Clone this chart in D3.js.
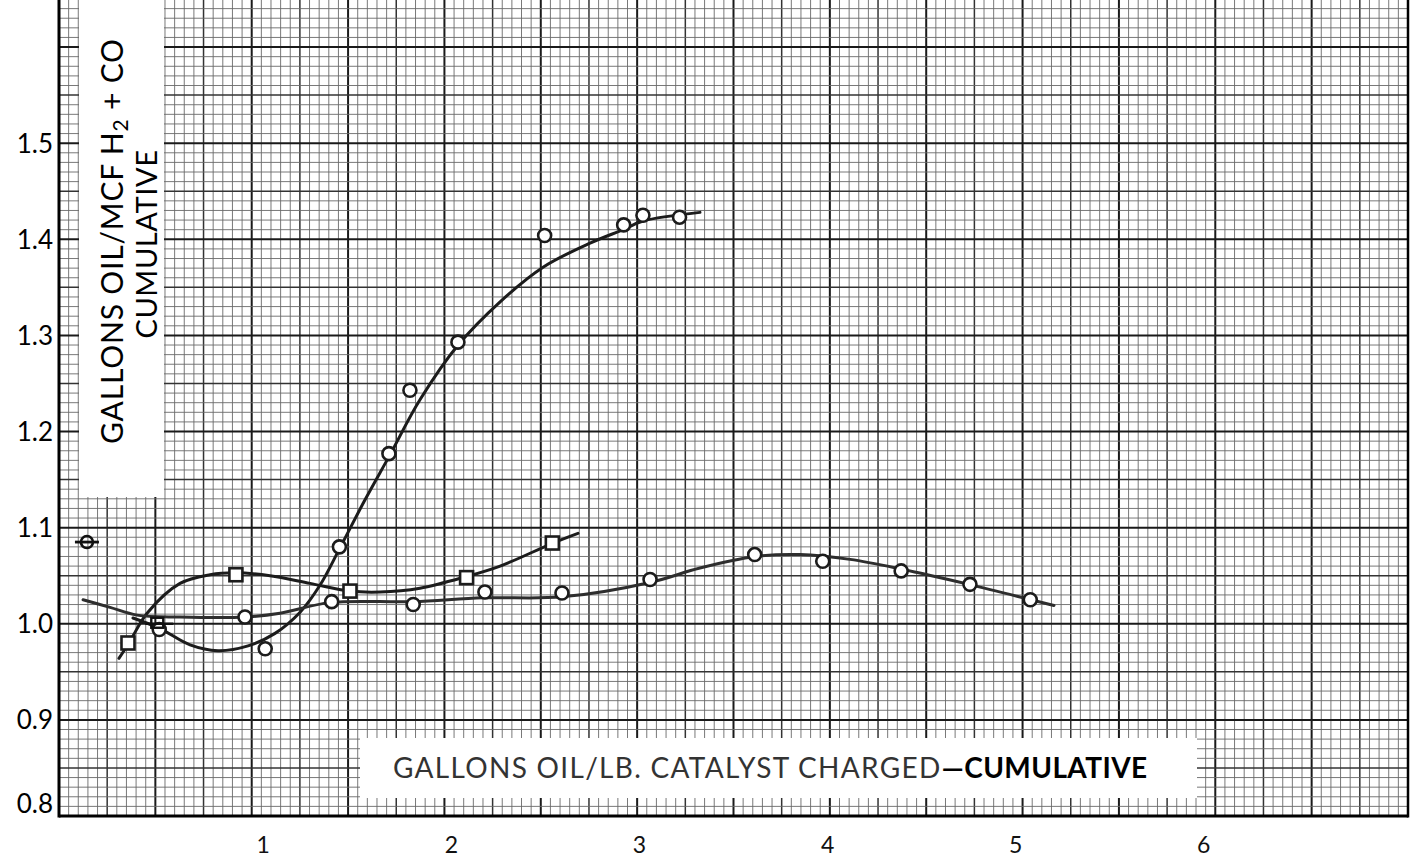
<!DOCTYPE html>
<html>
<head>
<meta charset="utf-8">
<script src="https://cdn.jsdelivr.net/npm/d3@7"></script>
<style>
  body { margin: 0; background: #fff; }
  svg { display: block; }
  text { font-family: Lato, "Open Sans", sans-serif; }
</style>
</head>
<body>
<svg id="chart"></svg>
<script>
'use strict';
// Tick labels
const X_TICKS = [1, 2, 3, 4, 5, 6];
const Y_TICKS = [0.8, 0.9, 1.0, 1.1, 1.2, 1.3, 1.4, 1.5];

// Run A (circles): plotted points and the hand drawn curve through them
const RUN_A_X = [0.52, 1.07, 1.455, 1.712, 1.821, 2.07, 2.52, 2.93, 3.03, 3.22];
const RUN_A_Y = [0.994, 0.974, 1.080, 1.177, 1.243, 1.293, 1.404, 1.415, 1.425, 1.423];
const CURVE_A_X = [0.384, 0.524, 0.68, 0.825, 0.981, 1.121, 1.251, 1.354, 1.458, 1.588, 1.718, 1.873, 2.071, 2.289, 2.512, 2.756, 2.927, 3.031, 3.326];
const CURVE_A_Y = [1.006, 0.995, 0.978, 0.972, 0.977, 0.990, 1.012, 1.040, 1.079, 1.129, 1.176, 1.233, 1.290, 1.335, 1.371, 1.396, 1.410, 1.419, 1.428];

// Run B (squares)
const RUN_B_X = [0.358, 0.918, 1.51, 2.115, 2.56];
const RUN_B_Y = [0.980, 1.051, 1.034, 1.048, 1.084];
const CURVE_B_X = [0.311, 0.363, 0.457, 0.628, 0.784, 0.913, 1.095, 1.303, 1.51, 1.666, 1.873, 2.112, 2.289, 2.564, 2.693];
const CURVE_B_Y = [0.964, 0.980, 1.011, 1.042, 1.051, 1.053, 1.050, 1.042, 1.034, 1.033, 1.037, 1.049, 1.060, 1.084, 1.094];

// Run C (circles, long run)
const RUN_C_X = [0.965, 1.415, 1.838, 2.21, 2.61, 3.067, 3.61, 3.963, 4.37, 4.727, 5.04];
const RUN_C_Y = [1.007, 1.023, 1.020, 1.033, 1.032, 1.046, 1.072, 1.065, 1.055, 1.041, 1.025];
const CURVE_C_X = [0.125, 0.265, 0.405, 0.628, 0.965, 1.147, 1.406, 1.837, 2.2, 2.61, 3.067, 3.326, 3.612, 3.845, 4.105, 4.369, 4.722, 5.044, 5.163];
const CURVE_C_Y = [1.025, 1.017, 1.009, 1.007, 1.007, 1.011, 1.022, 1.023, 1.027, 1.028, 1.043, 1.058, 1.070, 1.072, 1.067, 1.057, 1.041, 1.025, 1.019];

// single points with a short dash through them
const LONE_CIRCLE = [0.145, 1.085];
const LONE_SQUARE = [0.51, 1.0];

const Y_TITLE_1 = 'GALLONS OIL/MCF H';
const Y_TITLE_2 = 'CUMULATIVE';
const X_TITLE = 'GALLONS OIL/LB. CATALYST CHARGED';
const X_TITLE_END = '\u2014CUMULATIVE';

const WIDTH = 1421, HEIGHT = 867;
const LEFT = 59, RIGHT = 1408, BOTTOM = 816;

let svg = d3.select('#chart').attr('width', WIDTH).attr('height', HEIGHT);

let x = d3.scaleLinear().domain([0, 7]).range([LEFT, RIGHT]);
let y = d3.scaleLinear().domain([0.8, 1.65]).range([BOTTOM, -1]);

function zip(xs, ys) { return xs.map(function(v, i) { return [v, ys[i]] }); }

// --- graph paper ---
let grid = svg.append('g');
d3.range(0, 141).forEach(function(i) {
  let v = i * 0.05;
  let heavy = i % 10 === 0, mid = i % 5 === 0;
  grid.append('line')
    .attr('x1', x(v)).attr('x2', x(v))
    .attr('y1', 0).attr('y2', BOTTOM)
    .attr('stroke', heavy ? '#1a1a1a' : mid ? '#333' : '#6a6a6a')
    .attr('stroke-width', heavy ? 2 : mid ? 1.5 : 0.9);
});
d3.range(0, 86).forEach(function(i) {
  let v = 0.8 + i * 0.01;
  let heavy = i % 10 === 0, mid = i % 5 === 0;
  grid.append('line')
    .attr('x1', LEFT).attr('x2', RIGHT)
    .attr('y1', y(v)).attr('y2', y(v))
    .attr('stroke', heavy ? '#1a1a1a' : mid ? '#333' : '#6a6a6a')
    .attr('stroke-width', heavy ? 2 : mid ? 1.5 : 0.9);
});
// frame
svg.append('line').attr('x1', LEFT).attr('x2', LEFT).attr('y1', 0).attr('y2', BOTTOM + 1.5)
  .attr('stroke', '#000').attr('stroke-width', 3);
svg.append('line').attr('x1', LEFT).attr('x2', RIGHT).attr('y1', BOTTOM).attr('y2', BOTTOM)
  .attr('stroke', '#000').attr('stroke-width', 3);
svg.append('line').attr('x1', RIGHT).attr('x2', RIGHT).attr('y1', 0).attr('y2', BOTTOM + 1.5)
  .attr('stroke', '#000').attr('stroke-width', 2.5);

// white patches pasted over the paper for the titles
svg.append('rect').attr('x', 79).attr('y', 0).attr('width', 85).attr('height', 497).attr('fill', '#fff');
svg.append('rect').attr('x', 360).attr('y', 738).attr('width', 837).attr('height', 60).attr('fill', '#fff');

// --- axes ---
let yAxis = svg.append('g')
  .attr('transform', 'translate(' + (LEFT - 6) + ',0)')
  .call(d3.axisLeft(y).tickValues(Y_TICKS).tickSize(0).tickPadding(0).tickFormat(d3.format('.1f')));
yAxis.select('.domain').remove();
yAxis.selectAll('text')
  .attr('font-size', 26).attr('fill', '#000')
  .attr('font-family', 'Lato, sans-serif')
  .attr('dy', function(d) { return d === 0.8 ? '-0.15em' : '0.34em' });

// the hand lettered numbers drift slightly from the grid lines
let xLabel = d3.scaleLinear().domain([1, 6]).range([x(1) + 11, x(6) - 12]);
let xAxis = svg.append('g')
  .attr('transform', 'translate(0,' + (BOTTOM + 21) + ')')
  .call(d3.axisBottom(xLabel).tickValues(X_TICKS).tickSize(0).tickPadding(0).tickFormat(d3.format('d')));
xAxis.select('.domain').remove();
xAxis.selectAll('text')
  .attr('font-size', 23).attr('fill', '#111')
  .attr('font-family', 'Lato, sans-serif');

// --- titles ---
let yt = svg.append('text')
  .attr('transform', 'translate(123,241) rotate(-90)')
  .attr('text-anchor', 'middle')
  .attr('font-size', 30).attr('fill', '#000')
  .attr('letter-spacing', 0.8);
yt.append('tspan').text(Y_TITLE_1);
yt.append('tspan').attr('font-size', 21).attr('dy', 5).text('2');
yt.append('tspan').attr('dy', -5).text('  +  CO');

svg.append('text')
  .attr('transform', 'translate(157,244) rotate(-90)')
  .attr('text-anchor', 'middle')
  .attr('font-size', 29).attr('fill', '#000')
  .attr('letter-spacing', 0.6)
  .text(Y_TITLE_2);

let xt = svg.append('text')
  .attr('x', 393).attr('y', 778)
  .attr('font-size', 28).attr('fill', '#333')
  .attr('letter-spacing', 1.3);
xt.append('tspan').text(X_TITLE);
xt.append('tspan').attr('fill', '#000').attr('font-weight', 'bold').attr('letter-spacing', 0.4).text(X_TITLE_END);

// --- curves and points ---
let line = d3.line()
  .x(function(d) { return x(d[0]) })
  .y(function(d) { return y(d[1]) })
  .curve(d3.curveCatmullRom.alpha(0.5));

let curves = [
  { pts: zip(CURVE_A_X, CURVE_A_Y), color: '#1c1c1c' },
  { pts: zip(CURVE_B_X, CURVE_B_Y), color: '#1c1c1c' },
  { pts: zip(CURVE_C_X, CURVE_C_Y), color: '#2e2e2e' }
];
svg.append('g').selectAll('path')
  .data(curves)
  .enter()
  .append('path')
  .attr('d', function(d) { return line(d.pts) })
  .attr('fill', 'none')
  .attr('stroke', function(d) { return d.color })
  .attr('stroke-width', 3)
  .attr('stroke-linecap', 'round');

let marks = svg.append('g');
marks.selectAll('circle.a')
  .data(zip(RUN_A_X, RUN_A_Y).concat(zip(RUN_C_X, RUN_C_Y)))
  .enter()
  .append('circle')
  .attr('cx', function(d) { return x(d[0]) })
  .attr('cy', function(d) { return y(d[1]) })
  .attr('r', 6.5)
  .attr('fill', '#fff')
  .attr('stroke', '#1c1c1c')
  .attr('stroke-width', 2.6);

marks.selectAll('rect.b')
  .data(zip(RUN_B_X, RUN_B_Y))
  .enter()
  .append('rect')
  .attr('x', function(d) { return x(d[0]) - 6.5 })
  .attr('y', function(d) { return y(d[1]) - 6.5 })
  .attr('width', 13).attr('height', 13)
  .attr('fill', '#fff')
  .attr('stroke', '#1c1c1c')
  .attr('stroke-width', 2.6);

// lone points with their dash
marks.append('line')
  .attr('x1', x(LONE_CIRCLE[0]) - 12).attr('x2', x(LONE_CIRCLE[0]) + 12)
  .attr('y1', y(LONE_CIRCLE[1])).attr('y2', y(LONE_CIRCLE[1]))
  .attr('stroke', '#111').attr('stroke-width', 2.8);
marks.append('circle')
  .attr('cx', x(LONE_CIRCLE[0])).attr('cy', y(LONE_CIRCLE[1])).attr('r', 6)
  .attr('fill', 'none').attr('stroke', '#111').attr('stroke-width', 2.6);
marks.append('rect')
  .attr('x', x(LONE_SQUARE[0]) - 6).attr('y', y(LONE_SQUARE[1]) - 6)
  .attr('width', 12).attr('height', 10)
  .attr('fill', 'none').attr('stroke', '#111').attr('stroke-width', 2.4);
marks.append('line')
  .attr('x1', x(LONE_SQUARE[0]) - 12).attr('x2', x(LONE_SQUARE[0]) + 16)
  .attr('y1', y(LONE_SQUARE[1])).attr('y2', y(LONE_SQUARE[1]))
  .attr('stroke', '#111').attr('stroke-width', 2.4);
</script>
</body>
</html>
